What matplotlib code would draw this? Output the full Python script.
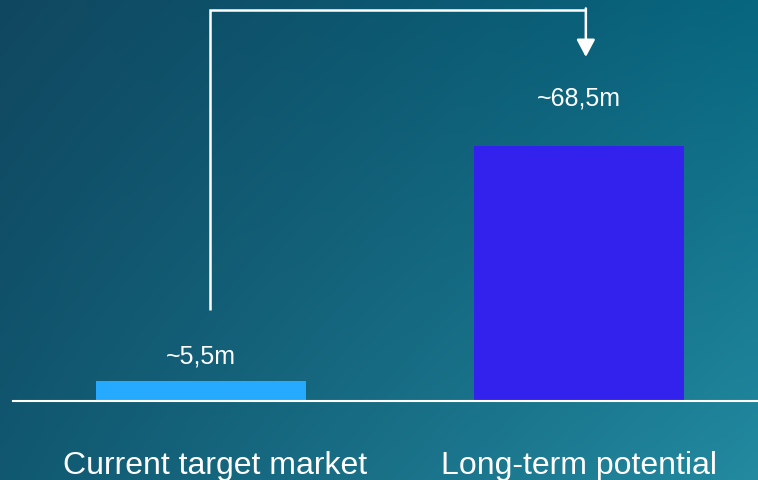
import numpy as np
import matplotlib.pyplot as plt
import matplotlib.transforms as mtransforms

# data
categories = ['Current target market', 'Long-term potential']
values = [5.5, 68.5]
value_labels = ['~5,5m', '~68,5m']
bar_colors = ['#26aaff', '#3322ee']

plt.rcParams['font.family'] = ['Liberation Sans', 'DejaVu Sans']

fig = plt.figure(figsize=(7.58, 4.8), dpi=100)

# gradient background
bg = fig.add_axes([0, 0, 1, 1])
gx, gy = np.meshgrid(np.linspace(0, 1, 200), np.linspace(0, 1, 200))
tl = np.array([17, 71, 96]) / 255
tr = np.array([8, 102, 127]) / 255
bl = np.array([16, 88, 112]) / 255
br = np.array([35, 138, 160]) / 255
img = (tl * ((1 - gx) * (1 - gy))[..., None] + tr * (gx * (1 - gy))[..., None]
       + bl * ((1 - gx) * gy)[..., None] + br * (gx * gy)[..., None])
bg.imshow(img, aspect='auto', extent=[0, 1, 0, 1], origin='upper')
bg.axis('off')

# main axes: baseline at y=401px, from x=13px to right edge
ax = fig.add_axes([13 / 758, 79 / 480, 745 / 758, 401 / 480])
ax.patch.set_alpha(0)
x = np.arange(len(categories))
ax.bar(x, values, width=0.556, color=bar_colors, zorder=2)
ax.set_xlim(-0.497, 1.474)
px = 255 / values[1]  # pixels per unit
ax.set_ylim(0, 401 / px)

for s in ['top', 'right', 'left']:
    ax.spines[s].set_visible(False)
ax.spines['bottom'].set_color('white')
ax.spines['bottom'].set_linewidth(1.5)
ax.set_yticks([])
ax.set_xticks(x)
ax.set_xticklabels(categories, fontsize=23, color='white')
ax.tick_params(axis='x', length=0, pad=36)
# first label sits a bit right of its bar in the original
lbl = ax.get_xticklabels()[0]
lbl.set_transform(lbl.get_transform() +
                  mtransforms.ScaledTranslation(14 / 100, 0, fig.dpi_scale_trans))

offsets = [17, 34]
for xi, v, lab, off in zip(x, values, value_labels, offsets):
    ax.annotate(lab, (xi, v), xytext=(0, off), textcoords='offset points',
                ha='center', va='center', fontsize=18, color='white')

# connector arrow
x0 = x[0] + 9 / 378
x1 = x[1] + 7 / 378
y_low = (401 - 310) / px
y_top = (401 - 9.5) / px
y_tip = (401 - 57) / px
ax.plot([x0, x0, x1], [y_low, y_top, y_top], color='white', lw=1.8,
        solid_joinstyle='miter', solid_capstyle='butt', clip_on=False)
ax.annotate('', xy=(x1, y_tip), xytext=(x1, y_top + 0.3),
            arrowprops=dict(arrowstyle='-|>,head_length=0.75,head_width=0.4',
                            mutation_scale=14, lw=1.8, color='white',
                            shrinkA=0, shrinkB=0))

fig.savefig('out.png', dpi=100)
